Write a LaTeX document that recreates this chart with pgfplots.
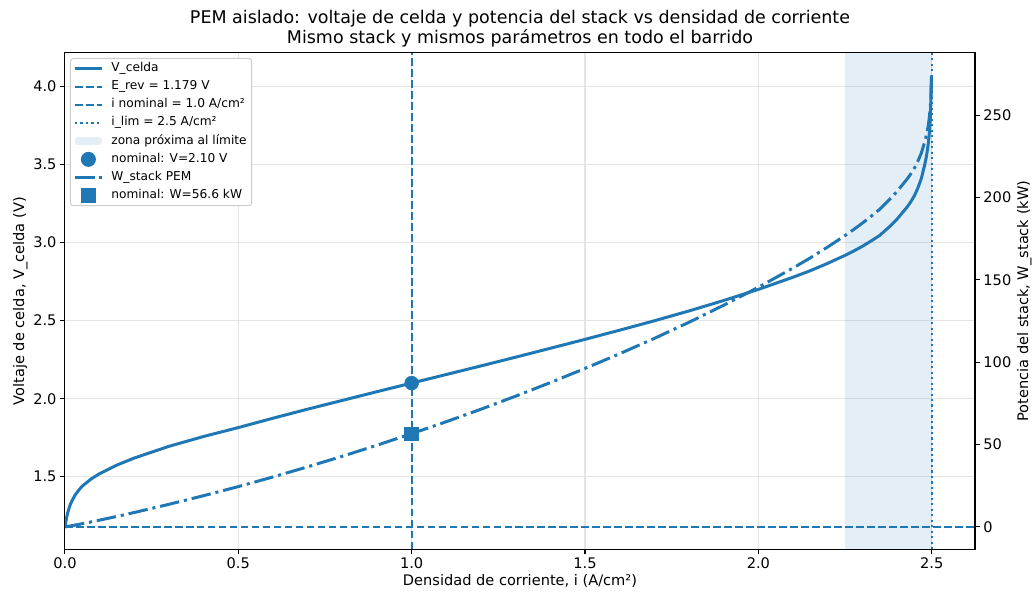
\documentclass[border=0pt]{standalone}
\usepackage{fontspec}
\setmainfont{DejaVu Sans}
\usepackage{pgfplots}
\pgfplotsset{compat=1.18}
\usepackage{pgfplotstable}
\definecolor{tabblue}{RGB}{31,119,180}
\definecolor{gridgray}{RGB}{228,228,228}
\definecolor{zonefill}{RGB}{227,238,246}
\definecolor{legframe}{RGB}{204,204,204}
\pgfplotsset{zonelegend/.style={legend image code/.code={\fill[##1] (0pt,-4pt) rectangle (27pt,4pt);}}}

\pgfplotstableread{
i V
0 1.179
0.001 1.190
0.0025 1.210
0.005 1.240
0.0075 1.265
0.01 1.285
0.015 1.320
0.02 1.345
0.03 1.385
0.04 1.415
0.05 1.440
0.075 1.485
0.1 1.520
0.15 1.575
0.2 1.620
0.3 1.695
0.4 1.758
0.5 1.815
0.6 1.875
0.7 1.933
0.8 1.989
0.9 2.045
1.0 2.100
1.1 2.155
1.2 2.210
1.3 2.266
1.4 2.323
1.5 2.380
1.6 2.439
1.7 2.499
1.8 2.562
1.9 2.629
2.0 2.700
2.1 2.778
2.15 2.820
2.2 2.867
2.25 2.918
2.275 2.946
2.3 2.976
2.325 3.010
2.35 3.046
2.375 3.095
2.39 3.127
2.4 3.150
2.415 3.190
2.43 3.230
2.44 3.262
2.45 3.300
2.46 3.349
2.47 3.410
2.48 3.500
2.485 3.555
2.49 3.630
2.4925 3.685
2.495 3.760
2.4965 3.822
2.498 3.920
2.4994 4.070
}\vdata

\pgfplotstableread{
i W
0 0
0.001 0.032
0.0025 0.082
0.005 0.167
0.0075 0.256
0.01 0.346
0.015 0.534
0.02 0.725
0.03 1.120
0.04 1.525
0.05 1.940
0.075 3.002
0.1 4.096
0.15 6.367
0.2 8.732
0.3 13.70
0.4 18.95
0.5 24.46
0.6 30.32
0.7 36.47
0.8 42.88
0.9 49.60
1.0 56.60
1.1 63.89
1.2 71.47
1.3 79.39
1.4 87.65
1.5 96.21
1.6 105.17
1.7 114.49
1.8 124.28
1.9 134.62
2.0 145.53
2.1 157.22
2.15 163.40
2.2 169.99
2.25 176.94
2.275 180.62
2.3 184.47
2.325 188.60
2.35 192.91
2.375 198.10
2.39 201.41
2.4 203.74
2.415 207.62
2.43 211.53
2.44 214.51
2.45 217.89
2.46 222.03
2.47 226.99
2.48 233.92
2.485 238.08
2.49 243.59
2.4925 247.53
2.495 252.82
2.4965 257.15
2.498 263.90
2.4994 274.15
}\wdata

\begin{document}
\begin{tikzpicture}
\pgfplotsset{
  every axis/.append style={
    scale only axis, width=911pt, height=497pt,
    xmin=0, xmax=2.625,
    /pgf/number format/assume math mode=true,
    tick label style={font=\fontsize{14.6}{17}\selectfont},
    label style={font=\fontsize{14.6}{17}\selectfont},
    tick align=outside, major tick length=4.9pt,
    every tick/.style={black, line width=1.1pt},
    axis line style={black, line width=1.1pt},
  }
}
\begin{axis}[
  ymin=1.0344, ymax=4.2146,
  xtick={0,0.5,1,1.5,2,2.5},
  xticklabels={0.0,0.5,1.0,1.5,2.0,2.5},
  ytick={1.5,2,2.5,3,3.5,4},
  yticklabels={1.5,2.0,2.5,3.0,3.5,4.0},
  xtick pos=bottom, ytick pos=left,
  grid=major, grid style={gridgray, line width=1.1pt},
  xlabel={Densidad de corriente, i (A/cm²)},
  ylabel={Voltaje de celda, V\_celda (V)},
  xlabel style={yshift=1pt},
  ylabel style={yshift=-1pt},
  title={PEM aislado: voltaje de celda y potencia del stack vs densidad de corriente\\Mismo stack y mismos parámetros en todo el barrido},
  title style={align=center, font=\fontsize{17.5}{20.5}\selectfont, yshift=-4pt},
]
\addplot[draw=none, fill=tabblue, fill opacity=0.12] coordinates {(2.25,1.0344) (2.25,4.2146) (2.5,4.2146) (2.5,1.0344)} -- cycle;
\addplot[tabblue, line width=2.1pt, dash pattern=on 7.7pt off 3.3pt] coordinates {(0,1.179) (2.625,1.179)};
\addplot[tabblue, line width=2.1pt, dash pattern=on 7.7pt off 3.3pt] coordinates {(1,1.0344) (1,4.2146)};
\addplot[tabblue, line width=2.1pt, dash pattern=on 2.1pt off 3.4pt] coordinates {(2.5,1.0344) (2.5,4.2146)};
\addplot[tabblue, line width=3pt, line join=round] table[x=i, y=V] {\vdata};
\addplot[only marks, mark=*, mark size=7pt, tabblue] coordinates {(1.0,2.10)};
\end{axis}
\begin{axis}[
  ymin=-13.71, ymax=287.86,
  axis x line=none, axis y line*=right, ytick pos=right,
  ytick={0,50,100,150,200,250},
  ylabel={Potencia del stack, W\_stack (kW)},
  ylabel style={yshift=1pt},
  legend style={at={(0,1)}, anchor=north west, xshift=5pt, yshift=-5pt,
    draw=legframe, line width=1pt, rounded corners=3pt, fill=white,
    font=\fontsize{12.2}{14}\selectfont, inner xsep=3pt, inner ysep=2pt,
    row sep=2.2pt, column sep=6pt,
    nodes={inner sep=2pt, text height=9pt, text depth=3pt}},
  legend cell align=left,
  legend image code/.code={\draw[mark repeat=2,mark phase=2,#1] plot coordinates {(0pt,0pt) (13.5pt,0pt) (27pt,0pt)};},
]
\addlegendimage{tabblue, line width=3pt}
\addlegendentry{V\_celda}
\addlegendimage{tabblue, line width=2.1pt, dash pattern=on 7.7pt off 3.3pt}
\addlegendentry{E\_rev = 1.179 V}
\addlegendimage{tabblue, line width=2.1pt, dash pattern=on 7.7pt off 3.3pt}
\addlegendentry{i nominal = 1.0 A/cm²}
\addlegendimage{tabblue, line width=2.1pt, dash pattern=on 2.1pt off 3.4pt}
\addlegendentry{i\_lim = 2.5 A/cm²}
\addlegendimage{draw=none, fill=zonefill, zonelegend}
\addlegendentry{zona próxima al límite}
\addlegendimage{only marks, mark=*, mark size=7pt, tabblue}
\addlegendentry{nominal: V=2.10 V}
\addplot[tabblue, line width=3pt, dash pattern=on 19.6pt off 4.9pt on 3.1pt off 4.9pt] table[x=i, y=W] {\wdata};
\addlegendentry{W\_stack PEM}
\addplot[only marks, mark=square*, mark size=7pt, tabblue] coordinates {(1.0,56.6)};
\addlegendentry{nominal: W=56.6 kW}
\end{axis}
\path (current axis.south west) ++(-65pt,-45pt) rectangle ++(1035pt,595pt);
\end{tikzpicture}
\end{document}
